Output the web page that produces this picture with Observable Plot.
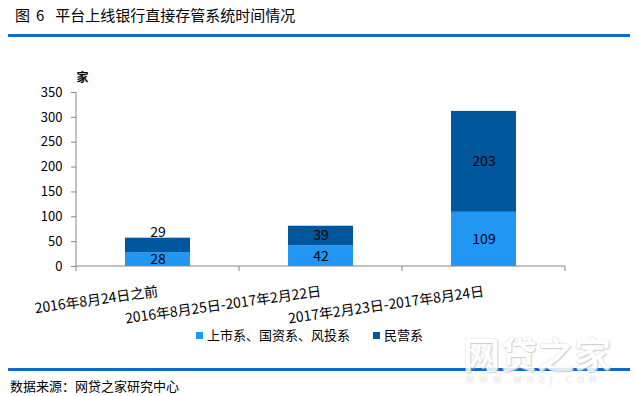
<!DOCTYPE html>
<html><head><meta charset="utf-8">
<script src="https://cdn.jsdelivr.net/npm/d3@7"></script>
<script src="https://cdn.jsdelivr.net/npm/@observablehq/plot@0.6"></script>
<style>
body{margin:0;width:636px;height:396px;position:relative;overflow:hidden;background:#fff;font-family:"Noto Sans CJK SC","Noto Sans",sans-serif;color:#000}
.title{position:absolute;left:15px;top:6px;font-size:15px;line-height:18px;white-space:nowrap}
.title span{display:inline-block}
.rule{position:absolute;left:8px;width:622px;height:3px;background:#1069CF}
#chart{position:absolute;left:0;top:40px}
.lg-sw{position:absolute;width:7px;height:7px}
.lg-tx{position:absolute;font-size:13px;line-height:18px;white-space:nowrap}
.source{position:absolute;left:10px;top:377px;font-size:13px;line-height:18px}
.wm1{position:absolute;left:463px;top:334px;font-size:37px;line-height:38px;font-weight:bold;color:#fff;text-shadow:0 0 1px #b8b8b8,1px 1px 1px #c8c8c8;opacity:.85;white-space:nowrap}
.wm2{position:absolute;left:466px;top:376px;font-size:8px;line-height:10px;letter-spacing:5.6px;color:#fff;text-shadow:0 0 1px #aaa;opacity:.85;white-space:nowrap;font-family:"DejaVu Sans",sans-serif}
</style></head>
<body>
<div class="title"><span style="margin-right:6px">图</span><span style="margin-right:11px">6</span><span>平台上线银行直接存管系统时间情况</span></div>
<div class="rule" style="top:34px"></div>
<div id="chart"></div>
<div id="legend"></div>
<div class="rule" style="top:368px"></div>
<div class="source">数据来源：网贷之家研究中心</div>
<div class="wm1">网贷之家</div>
<div class="wm2">WWW.WDZJ.COM</div>
<script>
const categories = ["2016年8月24日之前", "2016年8月25日-2017年2月22日", "2017年2月23日-2017年8月24日"];
const seriesNames = ["上市系、国资系、风投系", "民营系"];
const listedStateVC = [28, 42, 109];
const privateOwned = [29, 39, 203];
const yTicks = [0, 50, 100, 150, 200, 250, 300, 350];
const colors = ["#2196F3", "#01579B"];
const unitLabel = "家";

const seriesValues = [listedStateVC, privateOwned];
const rows = [];
categories.forEach((cat, i) => {
  let base = 0;
  seriesValues.forEach((vals, s) => {
    const v = vals[i];
    rows.push({cat, i, s, series: seriesNames[s], value: v, y1: base, y2: base + v, mid: base + v / 2});
    base += v;
  });
});
const isAbove = d => d.s === 1 && d.i === 0;

const axisColor = "#868686";
function axisLines(index, scales, values, dims) {
  const g = d3.create("svg:g");
  const x0 = dims.marginLeft, x1 = dims.width - dims.marginRight;
  const yb = scales.y(0), yt = scales.y(350);
  const n = categories.length;
  g.append("line").attr("x1", x0).attr("x2", x0).attr("y1", yt).attr("y2", yb).attr("stroke", axisColor);
  g.append("line").attr("x1", x0).attr("x2", x1).attr("y1", yb).attr("y2", yb).attr("stroke", axisColor);
  d3.range(n + 1).forEach(k => {
    const xx = x0 + k * (x1 - x0) / n;
    g.append("line").attr("x1", xx).attr("x2", xx).attr("y1", yb).attr("y2", yb + 5).attr("stroke", axisColor);
  });
  return g.node();
}

const chart = Plot.plot({
  width: 636,
  height: 300,
  marginLeft: 76,
  marginRight: 71,
  marginTop: 52,
  marginBottom: 74,
  style: {fontFamily: '"Noto Sans CJK SC","Noto Sans",sans-serif', fontSize: "13px", color: "#000", background: "transparent"},
  x: {type: "band", domain: categories, paddingInner: 0.6, paddingOuter: 0.3, axis: null},
  y: {domain: [0, 350], axis: null},
  color: {domain: seriesNames, range: colors},
  marks: [
    Plot.barY(rows, {x: "cat", y1: "y1", y2: "y2", fill: "series"}),
    Plot.axisY({ticks: yTicks, tickSize: 5, tickPadding: 9, stroke: axisColor, fill: "#000", fontSize: 13, label: null}),
    Plot.ruleY([0], {render: axisLines}),
    Plot.text(rows.filter(d => !isAbove(d)), {x: "cat", y: "mid", text: d => String(d.value), fontSize: 14, fill: "#000"}),
    Plot.text(rows.filter(isAbove), {x: "cat", y: "y2", text: d => String(d.value), fontSize: 14, fill: "#000", lineAnchor: "bottom", dy: -1}),
    Plot.text(categories, {x: d => d, frameAnchor: "bottom", text: d => d, rotate: -8, textAnchor: "end", lineAnchor: "middle", dy: 25, fontSize: 14, fill: "#000"}),
    Plot.text([unitLabel], {frameAnchor: "top-left", text: d => d, dy: -19, fontSize: 12, fontWeight: "bold", fill: "#000"})
  ]
});
document.getElementById("chart").appendChild(chart);

// legend
const legendPos = [{sw: 196, tx: 207}, {sw: 373, tx: 384}];
const lg = document.getElementById("legend");
seriesNames.forEach((name, s) => {
  const sw = document.createElement("div");
  sw.className = "lg-sw";
  sw.style.left = legendPos[s].sw + "px";
  sw.style.top = "332px";
  sw.style.background = colors[s];
  const tx = document.createElement("div");
  tx.className = "lg-tx";
  tx.style.left = legendPos[s].tx + "px";
  tx.style.top = "326px";
  tx.textContent = name;
  lg.appendChild(sw); lg.appendChild(tx);
});
</script>
</body></html>
